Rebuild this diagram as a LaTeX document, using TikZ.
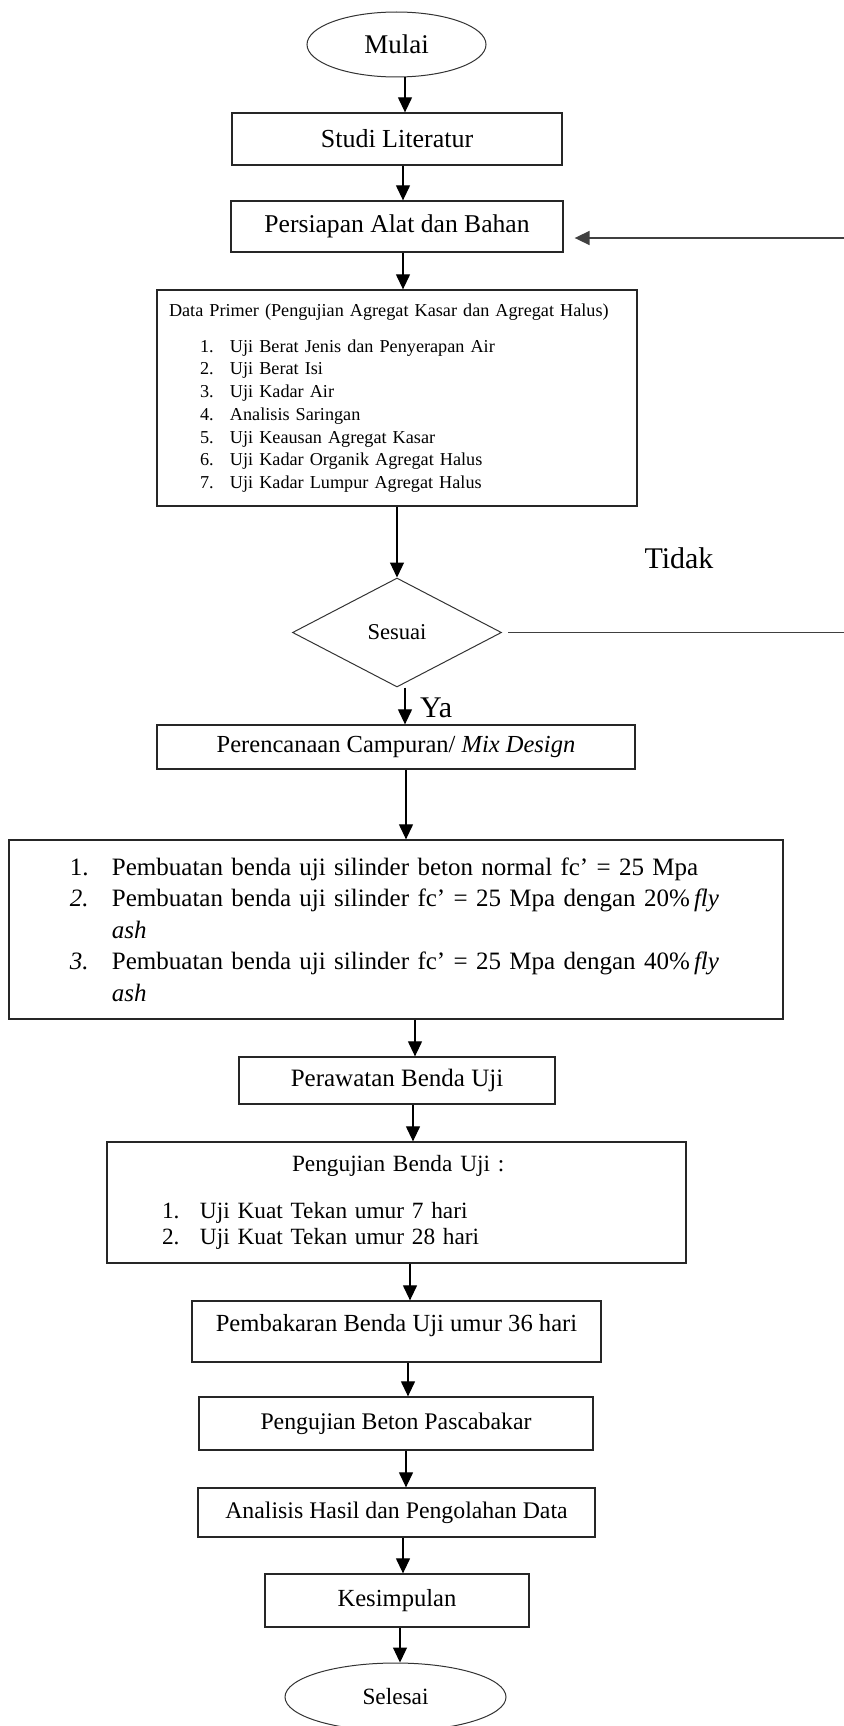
\documentclass[tikz,border=0pt]{standalone}
\usepackage{fontspec}
\setmainfont{Liberation Serif}
\usetikzlibrary{arrows.meta}
\usetikzlibrary{shapes.geometric}

\begin{document}
\begin{tikzpicture}[x=1pt, y=-1pt, every node/.style={inner sep=0pt},
		flowbox/.style={rectangle, draw=black!85, line width=1.3pt, fill=white},
		terminal/.style={ellipse, draw=black!80, line width=1pt},
		decide/.style={diamond, draw=black!80, line width=1pt},
		arr/.style={-{Triangle[length=15pt,width=14pt]}, line width=1.2pt},
		backline/.style={line width=1.7pt, draw=black!75}]
				\useasboundingbox (0,0) rectangle (843,1726);
				
				% Start and first steps
				\node[terminal, minimum width=179pt, minimum height=65pt, font=\fontsize{27}{32}\selectfont] (mulai) at (396.5,44.5) {Mulai};
				\node[flowbox, minimum width=330pt, minimum height=52pt, font=\fontsize{26}{31}\selectfont] (studi) at (397,139) {Studi Literatur};
				\node[flowbox, minimum width=332pt, minimum height=51pt, font=\fontsize{25.6}{30}\selectfont] (persiapan) at (397,226.5) {Persiapan Alat dan Bahan};
				
				% Primary data box
				\node[flowbox, minimum width=480pt, minimum height=216pt, text width=456pt, inner xsep=12pt, align=left, font=\fontsize{18.2}{22.7}\selectfont] (primer) at (397,398) {Data Primer (Pengujian Agregat Kasar dan Agregat Halus)\\[13.3pt]
					\hspace*{31pt}\makebox[30pt][l]{1.}Uji Berat Jenis dan Penyerapan Air\\
					\hspace*{31pt}\makebox[30pt][l]{2.}Uji Berat Isi\\
					\hspace*{31pt}\makebox[30pt][l]{3.}Uji Kadar Air\\
					\hspace*{31pt}\makebox[30pt][l]{4.}Analisis Saringan\\
					\hspace*{31pt}\makebox[30pt][l]{5.}Uji Keausan Agregat Kasar\\
					\hspace*{31pt}\makebox[30pt][l]{6.}Uji Kadar Organik Agregat Halus\\
					\hspace*{31pt}\makebox[30pt][l]{7.}Uji Kadar Lumpur Agregat Halus};
				
				% Decision
				\node[decide, minimum width=209pt, minimum height=109pt, font=\fontsize{22.6}{27}\selectfont] (sesuai) at (397,632.5) {Sesuai};
				\node[anchor=base, font=\fontsize{30}{36}\selectfont] (tidak) at (679,568) {Tidak};
				\node[anchor=base west, font=\fontsize{30}{36}\selectfont] (ya) at (420,717) {Ya};
				\coordinate (back) at (850,238);
				
				% Mix design and specimens
				\node[flowbox, minimum width=478pt, minimum height=44pt, font=\fontsize{24.5}{29}\selectfont] (campuran) at (396,747) {Perencanaan Campuran/ \textit{Mix Design}};
				\node[flowbox, minimum width=774pt, minimum height=179pt, text width=774pt, align=left, font=\fontsize{25}{31.5}\selectfont] (benda) at (396,929.5) {\hspace*{61pt}\makebox[42pt][l]{1.}Pembuatan benda uji silinder beton normal fc’ = 25 Mpa\\
					\hspace*{61pt}\makebox[42pt][l]{\textit{2.}}Pembuatan benda uji silinder fc’ = 25 Mpa dengan 20\%\,\textit{fly}\\
					\hspace*{103pt}\textit{ash}\\
					\hspace*{61pt}\makebox[42pt][l]{\textit{3.}}Pembuatan benda uji silinder fc’ = 25 Mpa dengan 40\%\,\textit{fly}\\
					\hspace*{103pt}\textit{ash}};
				
				% Curing and testing
				\node[flowbox, minimum width=316pt, minimum height=47pt, font=\fontsize{25}{30}\selectfont] (perawatan) at (397,1080.5) {Perawatan Benda Uji};
				\node[flowbox, minimum width=579pt, minimum height=121pt, text width=579pt, align=left, font=\fontsize{23.3}{26}\selectfont] (pengujian) at (396.5,1202.5) {\hspace*{185pt}Pengujian Benda Uji :\\[21pt]
					\hspace*{55pt}\makebox[38pt][l]{1.}Uji Kuat Tekan umur 7 hari\\
					\hspace*{55pt}\makebox[38pt][l]{2.}Uji Kuat Tekan umur 28 hari};
				
				% Burning, analysis, end
				\node[flowbox, minimum width=409pt, minimum height=61pt, text depth=18pt, font=\fontsize{24.6}{29}\selectfont] (pembakaran) at (396.5,1331.5) {Pembakaran Benda Uji umur 36 hari};
				\node[flowbox, minimum width=394pt, minimum height=53pt, font=\fontsize{23.8}{28}\selectfont] (pasca) at (396,1423.5) {Pengujian Beton Pascabakar};
				\node[flowbox, minimum width=397pt, minimum height=49pt, font=\fontsize{23.8}{28}\selectfont] (analisis) at (396.5,1512.5) {Analisis Hasil dan Pengolahan Data};
				\node[flowbox, minimum width=264pt, minimum height=53pt, font=\fontsize{24.6}{29}\selectfont] (kesimpulan) at (397,1600.5) {Kesimpulan};
				\node[terminal, minimum width=221pt, minimum height=68pt, font=\fontsize{23.3}{28}\selectfont] (selesai) at (395.5,1697) {Selesai};
				
				% Arrows
				\draw[arr] ([xshift=8.5pt]mulai.south) -- ([xshift=8pt]studi.north);
				\draw[arr] ([xshift=6pt]studi.south) -- ([xshift=6pt]persiapan.north);
				\draw[arr] ([xshift=6pt]persiapan.south) -- ([xshift=6pt]primer.north);
				\draw[arr] (primer.south) -- (sesuai.north);
				\draw[arr] ([xshift=8pt]sesuai.south) -- ([xshift=9pt]campuran.north);
				\draw[arr] ([xshift=10pt]campuran.south) -- ([xshift=10pt]benda.north);
				\draw[arr] ([xshift=19pt]benda.south) -- ([xshift=18pt]perawatan.north);
				\draw[arr] ([xshift=16pt]perawatan.south) -- ([xshift=16.5pt]pengujian.north);
				\draw[arr] ([xshift=13.5pt]pengujian.south) -- ([xshift=13.5pt]pembakaran.north);
				\draw[arr] ([xshift=11.5pt]pembakaran.south) -- ([xshift=12pt]pasca.north);
				\draw[arr] ([xshift=10pt]pasca.south) -- ([xshift=9.5pt]analisis.north);
				\draw[arr] ([xshift=6.5pt]analisis.south) -- ([xshift=6pt]kesimpulan.north);
				\draw[arr] ([xshift=3pt]kesimpulan.south) -- ([xshift=4.5pt]selesai.north);
				
				% Back to preparation when not suitable
				\draw[arr, backline] ([xshift=6pt]sesuai.east) -| (back) -- ([xshift=11pt,yshift=-11.5pt]persiapan.east);
			\end{tikzpicture}
\end{document}
